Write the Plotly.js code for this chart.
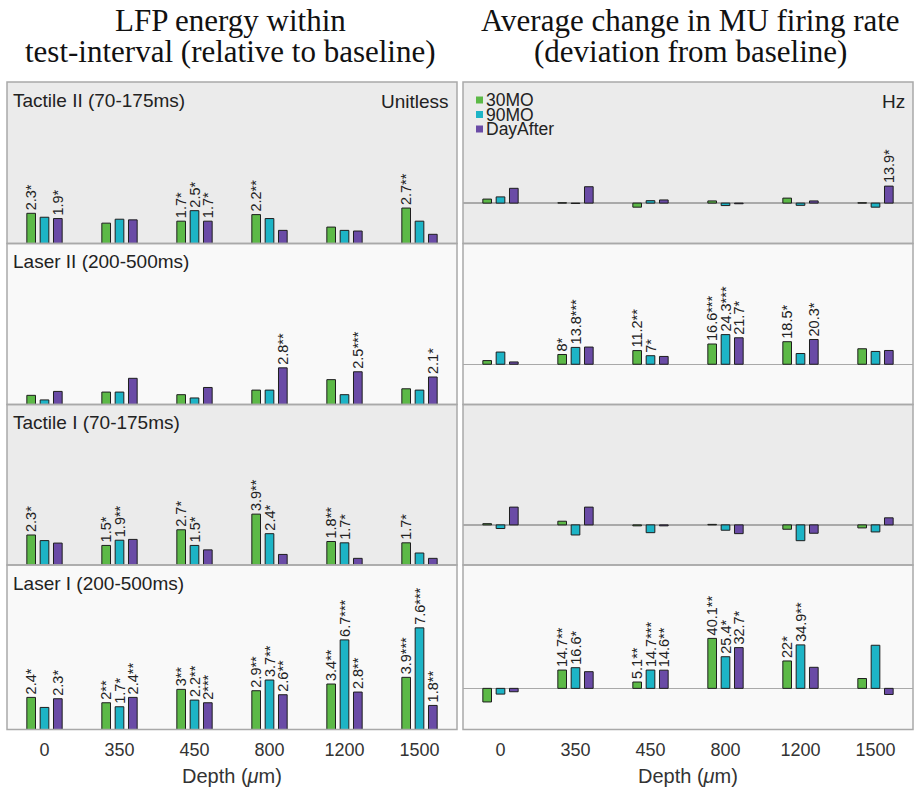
<!DOCTYPE html>
<html>
<head>
<meta charset="utf-8">
<script src="https://cdn.plot.ly/plotly-3.0.1.min.js"></script>
<style>html,body{margin:0;padding:0;background:#fff;}#chart{width:917px;height:790px;}</style>
</head>
<body>
<div id="chart"></div>
<script>
// ---------- DATA ----------
const depths = ['0', '350', '450', '800', '1200', '1500'];
const seriesNames = ['30MO', '90MO', 'DayAfter'];
const seriesColors = ['#5cb947', '#1db4c6', '#6a4ba6'];
const rowLabels = ['Tactile II (70-175ms)', 'Laser II (200-500ms)', 'Tactile I (70-175ms)', 'Laser I (200-500ms)'];
const columnTitles = [['LFP energy within', 'test-interval (relative to baseline)'],
                      ['Average change in MU firing rate', '(deviation from baseline)']];
const unitLabels = ['Unitless', 'Hz'];
const xAxisTitle = 'Depth (<i>μ</i>m)';

// LFP energy (relative to baseline): [30MO, 90MO, DayAfter]
const lfpTactileII = [[2.3, 1.55, 1.7, 2.2, 1.25, 2.7], [2.0, 1.85, 2.5, 1.9, 1.0, 1.7], [1.9, 1.8, 1.7, 1.0, 0.95, 0.7]];
const lfpTactileIILabels = [['2.3*', '', '1.7*', '2.2**', '', '2.7**'], ['', '', '2.5*', '', '', ''], ['1.9*', '', '1.7*', '', '', '']];
const lfpLaserII = [[0.7, 0.95, 0.75, 1.1, 1.9, 1.2], [0.35, 0.95, 0.5, 1.1, 0.75, 1.1], [1.0, 2.0, 1.3, 2.8, 2.5, 2.1]];
const lfpLaserIILabels = [['', '', '', '', '', ''], ['', '', '', '', '', ''], ['', '', '', '2.8**', '2.5***', '2.1*']];
const lfpTactileI = [[2.3, 1.5, 2.7, 3.9, 1.8, 1.7], [1.87, 1.9, 1.5, 2.4, 1.7, 0.92], [1.68, 1.96, 1.16, 0.81, 0.51, 0.51]];
const lfpTactileILabels = [['2.3*', '1.5*', '2.7*', '3.9**', '1.8**', '1.7*'], ['', '1.9**', '1.5*', '2.4*', '1.7*', ''], ['', '', '', '', '', '']];
const lfpLaserI = [[2.4, 2.0, 3.0, 2.9, 3.4, 3.9], [1.65, 1.7, 2.2, 3.7, 6.7, 7.6], [2.3, 2.4, 2.0, 2.6, 2.8, 1.8]];
const lfpLaserILabels = [['2.4*', '2**', '3**', '2.9**', '3.4**', '3.9***'], ['', '1.7*', '2.2**', '3.7**', '6.7***', '7.6***'], ['2.3*', '2.4**', '2***', '2.6**', '2.8**', '1.8**']];

// MU firing rate change (Hz): [30MO, 90MO, DayAfter]
const muTactileII = [[3.3, 0.3, -3.3, 1.8, 4.1, 0.3], [5.1, -0.3, 2.0, -2.0, -1.8, -3.3], [12.1, 13.4, 2.6, -0.5, 1.8, 13.9]];
const muTactileIILabels = [['', '', '', '', '', ''], ['', '', '', '', '', ''], ['', '', '', '', '', '13.9*']];
const muLaserII = [[3.0, 8, 11.2, 16.6, 18.5, 12.7], [10, 13.8, 7, 24.3, 8.8, 10.5], [1.9, 14.1, 6.4, 21.7, 20.3, 11.3]];
const muLaserIILabels = [['', '8*', '11.2**', '16.6***', '18.5*', ''], ['', '13.8***', '7*', '24.3***', '', ''], ['', '', '', '21.7*', '20.3*', '']];
const muTactileI = [[1.0, 3.0, -0.8, 0.4, -3.6, -2.5], [-3.0, -8.3, -6.4, -4.4, -13, -5.8], [14.6, 14.6, -0.8, -7.2, -6.9, 5.8]];
const muTactileILabels = [['', '', '', '', '', ''], ['', '', '', '', '', ''], ['', '', '', '', '', '']];
const muLaserI = [[-10.9, 14.7, 5.1, 40.1, 22, 7.9], [-4.6, 16.6, 14.7, 25.4, 34.9, 34.6], [-2.7, 13.4, 14.6, 32.7, 16.9, -4.9]];
const muLaserILabels = [['', '14.7**', '5.1**', '40.1**', '22*', ''], ['', '16.6*', '14.7***', '25.4*', '34.9**', ''], ['', '', '14.6**', '32.7*', '', '']];

// ---------- LAYOUT HELPERS ----------
const W = 917, H = 790;
const FONT = 'Liberation Sans, Arial, sans-serif';
const SERIF = 'Liberation Serif, Times New Roman, serif';
const rowPx = [[82, 243.5], [243.5, 404.5], [404.5, 565], [565, 729.5]];
const colPx = [[7, 457], [463, 913]];
const rowBg = ['#ebebeb', '#f9f9f9', '#ebebeb', '#f9f9f9'];
const yRanges = [[0, 12.3], [-33, 99]];

const panels = [
  [lfpTactileII, lfpTactileIILabels], [lfpLaserII, lfpLaserIILabels], [lfpTactileI, lfpTactileILabels], [lfpLaserI, lfpLaserILabels],
  [muTactileII, muTactileIILabels], [muLaserII, muLaserIILabels], [muTactileI, muTactileILabels], [muLaserI, muLaserILabels]
];

const traces = [];
const layout = {
  width: W, height: H,
  margin: {l: 0, r: 0, t: 0, b: 0},
  paper_bgcolor: '#ffffff', plot_bgcolor: 'rgba(0,0,0,0)',
  barmode: 'group', bargap: 0.467, bargroupgap: 0.35,
  showlegend: false,
  font: {family: FONT, color: '#222'},
  shapes: [], annotations: []
};

for (let c = 0; c < 2; c++) {
  const xName = c === 0 ? 'x' : 'x2';
  const xKey = c === 0 ? 'xaxis' : 'xaxis2';
  layout[xKey] = {
    domain: [colPx[c][0] / W, colPx[c][1] / W],
    anchor: 'y' + (c * 4 + 4),
    type: 'category', categoryorder: 'array', categoryarray: depths,
    showgrid: false, zeroline: false, showline: false, ticks: '',
    tickfont: {family: FONT, size: 18, color: '#333'},
    ticklabelstandoff: 7, fixedrange: true
  };
  for (let r = 0; r < 4; r++) {
    const idx = c * 4 + r + 1;
    const yName = 'y' + (idx === 1 ? '' : idx);
    const yKey = 'yaxis' + (idx === 1 ? '' : idx);
    layout[yKey] = {
      domain: [1 - rowPx[r][1] / H, 1 - rowPx[r][0] / H],
      anchor: xName, range: yRanges[c],
      showgrid: false, showticklabels: false, ticks: '', showline: false,
      zeroline: c === 1, zerolinecolor: '#a9a9a9', zerolinewidth: 1.5,
      fixedrange: true
    };
    const [vals, labels] = panels[c * 4 + r];
    for (let s = 0; s < 3; s++) {
      traces.push({
        type: 'bar', name: seriesNames[s], x: depths, y: vals[s],
        xaxis: xName, yaxis: yName,
        marker: {color: seriesColors[s], line: {color: '#1e1e1e', width: 1}},
        text: labels[s], textposition: 'outside', textangle: -90,
        constraintext: 'none', cliponaxis: false,
        textfont: {family: FONT, size: 14.5, color: '#222'},
        hoverinfo: 'x+y+name'
      });
    }
    const yDom = yName + ' domain';
    const xDom = xName + ' domain';
    layout.shapes.push({type: 'rect', xref: xDom, yref: yDom, x0: 0, x1: 1, y0: 0, y1: 1,
      fillcolor: rowBg[r], line: {width: 0}, layer: 'below'});
    layout.shapes.push({type: 'rect', xref: xDom, yref: yDom, x0: 0, x1: 1, y0: 0, y1: 1,
      fillcolor: 'rgba(0,0,0,0)', line: {color: '#a9a9a9', width: 1.5}, layer: 'above'});
    if (c === 0) {
      layout.annotations.push({text: rowLabels[r], xref: 'paper', yref: 'paper',
        x: 11 / W, y: 1 - (rowPx[r][0] + 18) / H, xanchor: 'left', yanchor: 'middle',
        showarrow: false, font: {family: FONT, size: 19, color: '#222'}});
    }
  }
  // unit label
  layout.annotations.push({text: unitLabels[c], xref: 'paper', yref: 'paper',
    x: (c === 0 ? 451 : 907) / W, y: 1 - 101 / H, xanchor: 'right', yanchor: 'middle',
    showarrow: false, font: {family: FONT, size: 19, color: '#222'}});
  // column titles
  const cx = c === 0 ? 230 : 690;
  columnTitles[c].forEach((t, i) => {
    layout.annotations.push({text: t, xref: 'paper', yref: 'paper',
      x: cx / W, y: 1 - (20.5 + 31 * i) / H, xanchor: 'center', yanchor: 'middle',
      showarrow: false, font: {family: SERIF, size: 31, color: '#111'}});
  });
  // x axis title
  layout.annotations.push({text: xAxisTitle, xref: xName + ' domain', yref: 'paper',
    x: 0.5, y: 1 - 776 / H, xanchor: 'center', yanchor: 'middle',
    showarrow: false, font: {family: FONT, size: 20, color: '#333'}});
}

// manual compact legend in upper-right panel
seriesNames.forEach((n, i) => {
  const yc = 100 + 14.5 * i;
  layout.shapes.push({type: 'rect', xref: 'paper', yref: 'paper',
    x0: 476 / W, x1: 483 / W, y0: 1 - (yc + 3.5) / H, y1: 1 - (yc - 3.5) / H,
    fillcolor: seriesColors[i], line: {width: 0}, layer: 'above'});
  layout.annotations.push({text: n, xref: 'paper', yref: 'paper',
    x: 484 / W, y: 1 - yc / H, xanchor: 'left', yanchor: 'middle',
    showarrow: false, font: {family: FONT, size: 17.5, color: '#222'}});
});

Plotly.newPlot('chart', traces, layout, {displayModeBar: false, staticPlot: true});
</script>
</body>
</html>
